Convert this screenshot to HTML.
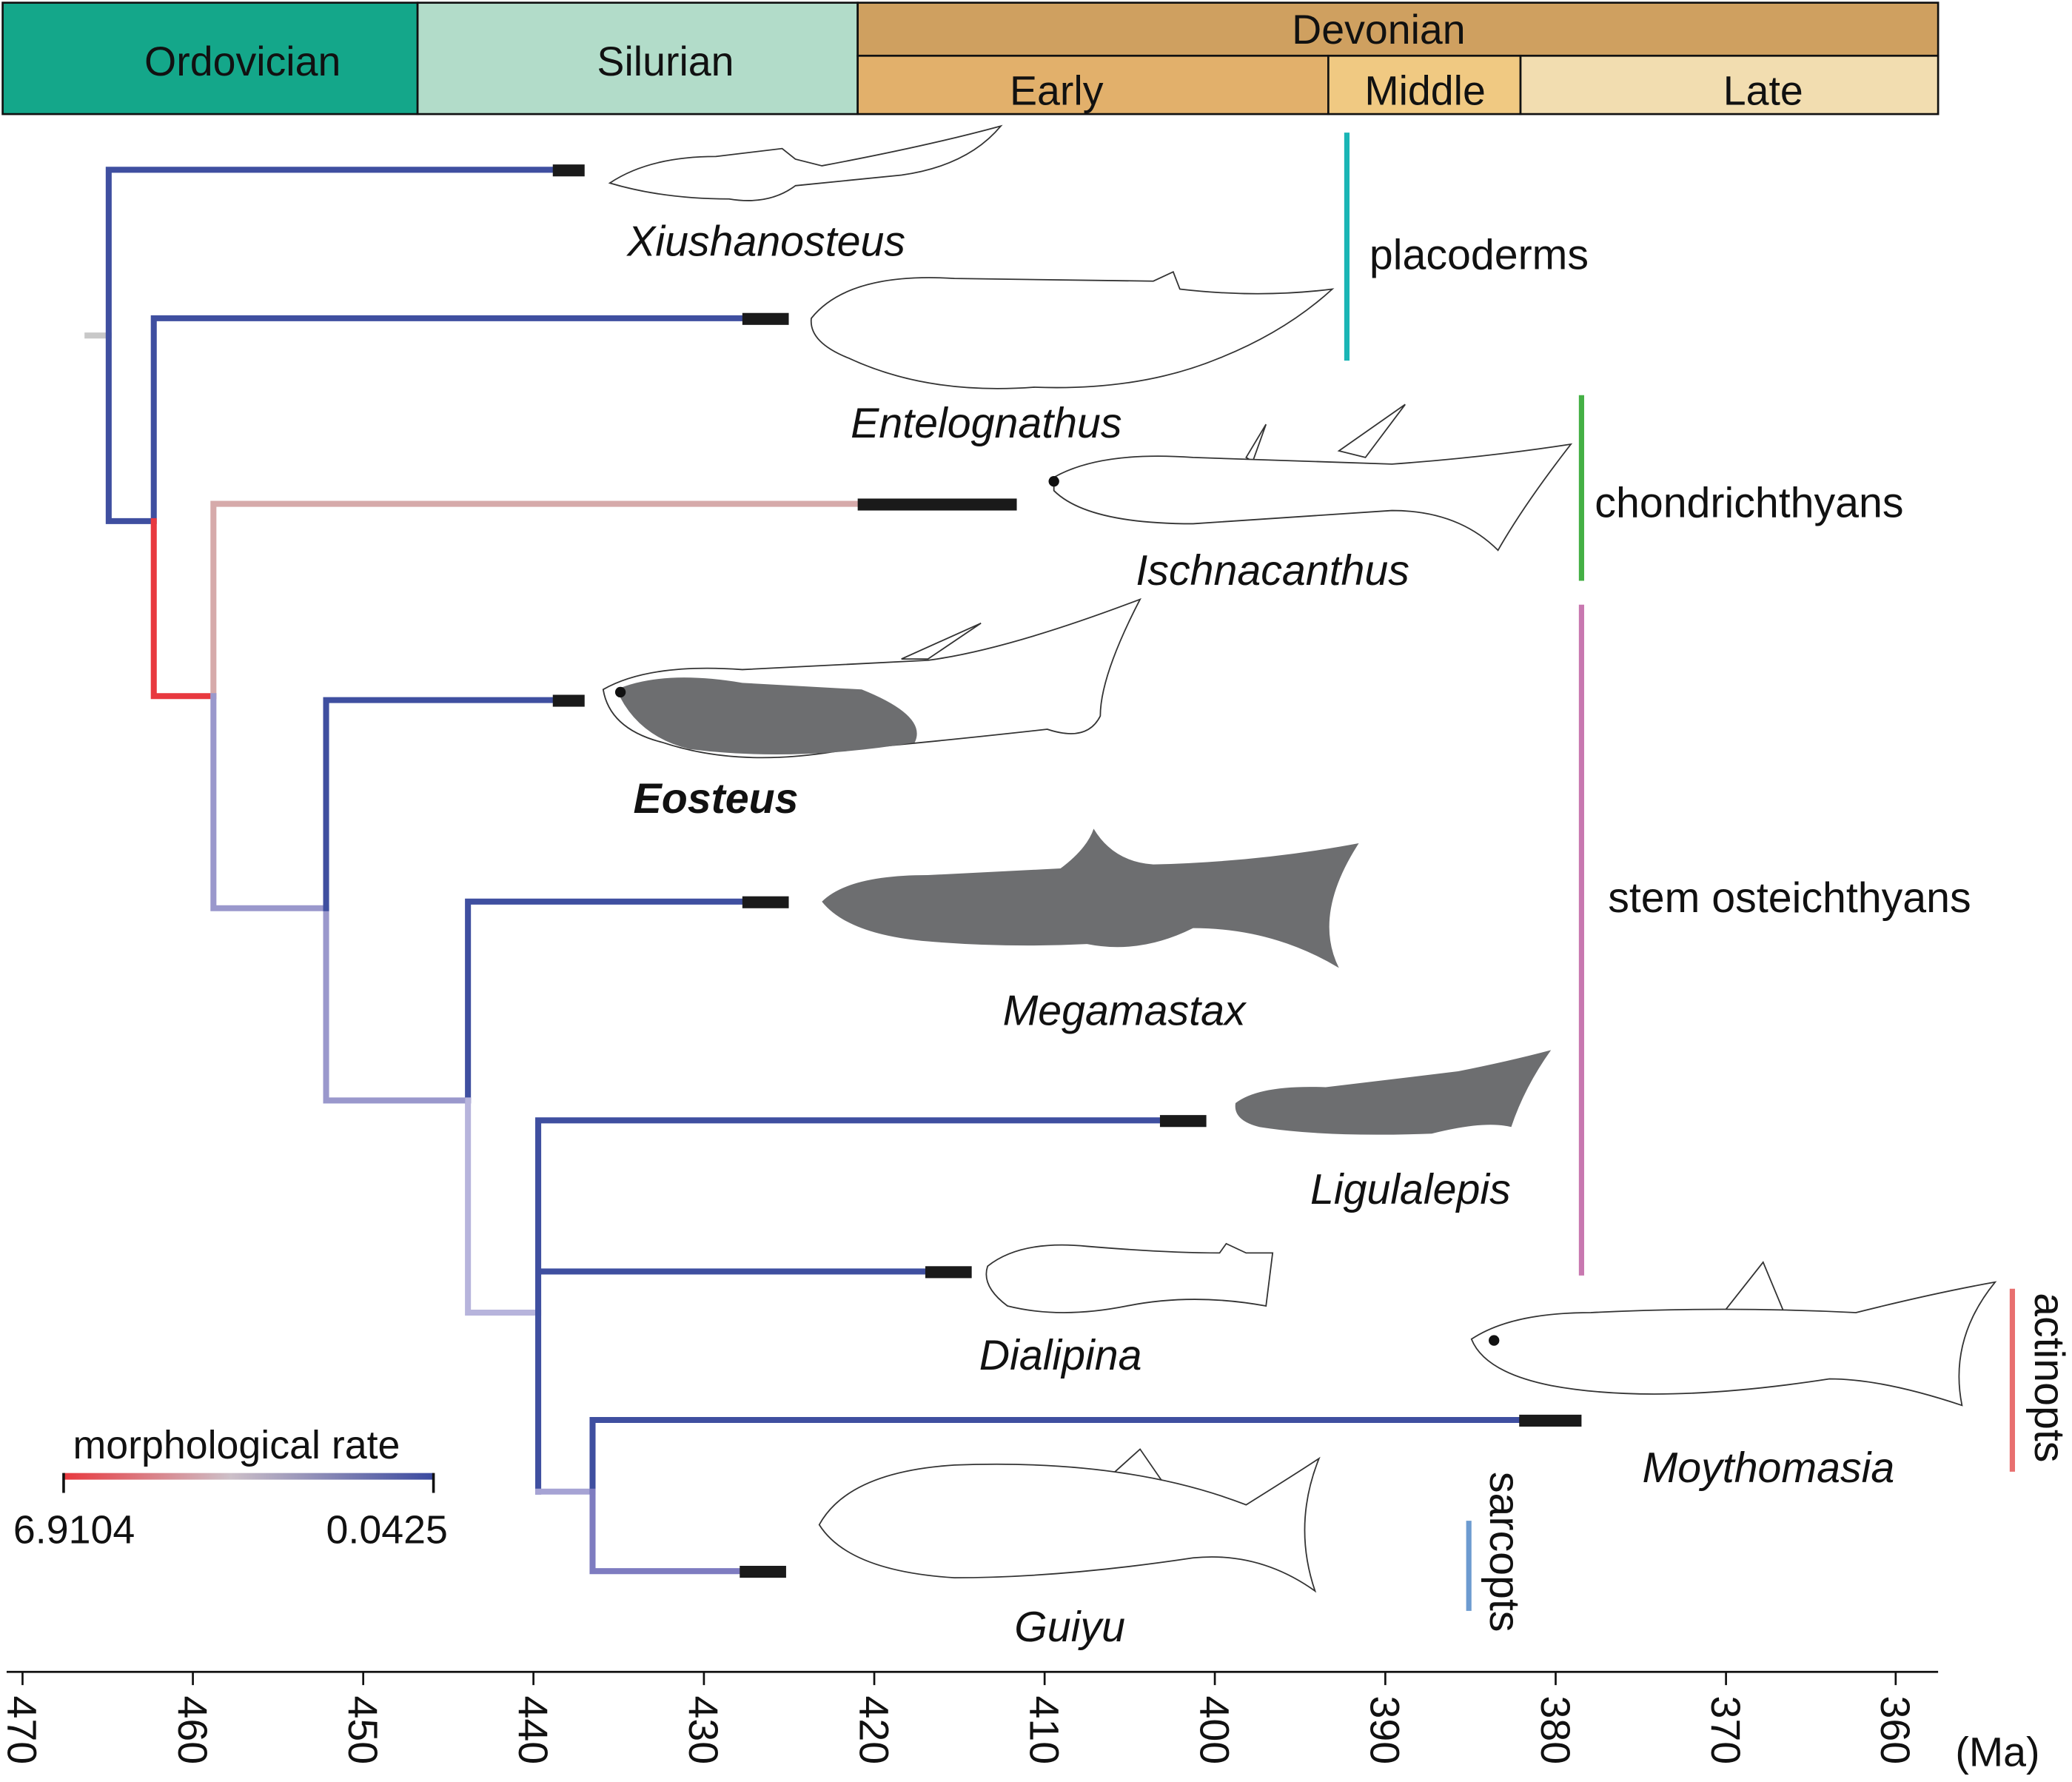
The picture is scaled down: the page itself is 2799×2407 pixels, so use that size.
<!DOCTYPE html>
<html><head><meta charset="utf-8"><style>
html,body{margin:0;padding:0;background:#fff;}
svg{display:block;}
text{font-family:"Liberation Sans",Arial,sans-serif;fill:#111;}
</style></head><body>
<svg width="2799" height="2407" viewBox="0 0 1563 1344" xmlns="http://www.w3.org/2000/svg">
<defs>
<linearGradient id="g" x1="0" x2="1" y1="0" y2="0">
<stop offset="0" stop-color="#e8393f"/><stop offset="0.45" stop-color="#cdc0c8"/><stop offset="1" stop-color="#3b4aa0"/>
</linearGradient>
</defs>
<g stroke="#111" stroke-width="1.5">
<rect x="2" y="2" width="313" height="84" fill="#14a78a"/>
<rect x="315" y="2" width="332" height="84" fill="#b2dcc9"/>
<rect x="647" y="2" width="815" height="40" fill="#cfa060"/>
<rect x="647" y="42" width="355" height="44" fill="#e2b06b"/>
<rect x="1002" y="42" width="145" height="44" fill="#f0c982"/>
<rect x="1147" y="42" width="315" height="44" fill="#f2ddb0"/>
</g>
<g font-size="31" text-anchor="middle">
<text x="183" y="57">Ordovician</text>
<text x="502" y="57">Silurian</text>
<text x="1040" y="33">Devonian</text>
<text x="797" y="79">Early</text>
<text x="1075" y="79">Middle</text>
<text x="1330" y="79">Late</text>
</g>
<g fill="none" stroke-width="4.5" stroke-linecap="square">
<path d="M66 253H82" stroke="#c8c8c8"/>
<path d="M82 128V393H116V240M82 128H420M116 240H560" stroke="#3f4fa0"/>
<path d="M116 393V525H161" stroke="#e8393f"/>
<path d="M161 525V380H647" stroke="#d6aaaa"/>
<path d="M161 525V685H246V830H353" stroke="#9a98cc"/>
<path d="M246 685V528H420" stroke="#3f4fa0"/>
<path d="M353 830V680H560" stroke="#3f4fa0"/>
<path d="M353 830V990H406" stroke="#b7b4dc"/>
<path d="M406 990V845H875M406 959H698M406 990V1125" stroke="#3f4fa0"/>
<path d="M406 1125H447" stroke="#a6a3d4"/>
<path d="M447 1125V1071H1146" stroke="#3f4fa0"/>
<path d="M447 1125V1185H558" stroke="#7e7cc0"/>
</g>
<g fill="#1a1a1a">
<rect x="417" y="124" width="24" height="9"/>
<rect x="560" y="236" width="35" height="9"/>
<rect x="647" y="376" width="120" height="9"/>
<rect x="417" y="524" width="24" height="9"/>
<rect x="560" y="676" width="35" height="9"/>
<rect x="875" y="841" width="35" height="9"/>
<rect x="698" y="955" width="35" height="9"/>
<rect x="1146" y="1067" width="47" height="9"/>
<rect x="558" y="1181" width="35" height="9"/>
</g>
<g stroke="#333" stroke-width="1" fill="#fff">
<path d="M460 138 Q490 118 540 118 L590 112 L600 120 L620 125 Q700 110 755 95 Q730 125 680 132 L600 140 Q580 155 550 150 Q500 150 460 138Z"/>
<path d="M612 240 Q640 205 720 210 L870 212 L885 205 L890 218 Q950 225 1005 218 Q970 250 920 270 Q860 295 780 292 Q700 298 640 270 Q610 258 612 240Z"/>
<path d="M940 345 L955 320 L945 348Z M1010 340 L1060 305 L1030 345Z"/>
<path d="M795 360 Q830 340 900 345 L1050 350 Q1120 345 1185 335 Q1150 380 1130 415 Q1100 385 1050 385 L900 395 Q820 395 795 370Z"/>
<path d="M680 497 L740 470 L700 497Z"/>
<path d="M455 520 Q490 500 560 505 L700 498 Q760 490 860 452 Q830 510 830 540 Q820 560 790 550 Q700 560 640 565 Q560 580 500 560 Q460 550 455 520Z"/>
<path d="M745 955 Q770 935 820 940 Q880 945 920 945 L925 938 L940 945 L960 945 L955 985 Q900 975 850 985 Q800 995 760 985 Q740 970 745 955Z"/>
<path d="M1300 990 L1330 952 L1345 988Z"/>
<path d="M1110 1010 Q1140 990 1200 990 Q1300 985 1400 990 Q1460 975 1505 967 Q1470 1010 1480 1060 Q1420 1040 1380 1040 Q1250 1060 1170 1045 Q1120 1035 1110 1010Z"/>
<path d="M830 1120 L860 1093 L880 1122Z"/>
<path d="M618 1150 Q640 1110 720 1105 Q850 1100 940 1135 Q980 1110 995 1100 Q975 1150 992 1200 Q950 1170 900 1175 Q800 1190 720 1190 Q640 1185 618 1150Z"/>
</g>
<path d="M465 520 Q500 505 560 515 L650 520 Q700 540 690 560 Q600 575 520 565 Q480 555 465 520Z" fill="#6d6e70"/>
<path d="M620 680 Q640 660 700 660 L800 655 Q820 640 825 625 Q840 650 870 652 Q950 650 1025 636 Q990 690 1010 730 Q960 700 900 700 Q860 720 820 712 Q760 715 700 710 Q640 705 620 680Z" fill="#6d6e70"/>
<path d="M932 832 Q950 818 1000 820 L1100 808 Q1140 800 1170 792 Q1150 820 1140 850 Q1120 845 1080 855 Q1000 858 950 850 Q930 845 932 832Z" fill="#6d6e70"/>
<g fill="#111"><circle cx="468" cy="522" r="4"/><circle cx="1127" cy="1011" r="4"/><circle cx="795" cy="363" r="4"/></g>
<g font-size="32" font-style="italic" text-anchor="middle">
<text x="578" y="193">Xiushanosteus</text>
<text x="744" y="330">Entelognathus</text>
<text x="960" y="441">Ischnacanthus</text>
<text x="540" y="613" font-weight="bold">Eosteus</text>
<text x="848" y="773">Megamastax</text>
<text x="1064" y="908">Ligulalepis</text>
<text x="800" y="1033">Dialipina</text>
<text x="1334" y="1118">Moythomasia</text>
<text x="807" y="1238">Guiyu</text>
</g>
<g stroke-width="4">
<line x1="1016" y1="100" x2="1016" y2="272" stroke="#1ab5b5"/>
<line x1="1193" y1="298" x2="1193" y2="438" stroke="#44b045"/>
<line x1="1193" y1="456" x2="1193" y2="962" stroke="#c878b0"/>
<line x1="1518" y1="972" x2="1518" y2="1110" stroke="#e87070"/>
<line x1="1108" y1="1147" x2="1108" y2="1215" stroke="#6d9bd0"/>
</g>
<g font-size="32">
<text x="1033" y="203">placoderms</text>
<text x="1203" y="390">chondrichthyans</text>
<text x="1213" y="688">stem osteichthyans</text>
<text transform="translate(1535,975) rotate(90)">actinopts</text>
<text transform="translate(1124,1110) rotate(90)">sarcopts</text>
</g>
<text x="55" y="1100" font-size="30">morphological rate</text>
<rect x="48" y="1111" width="279" height="5" fill="url(#g)"/>
<path d="M48 1111V1126M327 1111V1126" stroke="#111" stroke-width="2"/>
<text x="10" y="1164" font-size="30">6.9104</text>
<text x="246" y="1164" font-size="30">0.0425</text>
<line x1="5" y1="1261" x2="1462" y2="1261" stroke="#111" stroke-width="1.5"/>
<g stroke="#111" stroke-width="1.5">
<path d="M17 1261v10M145.5 1261v10M274 1261v10M402.4 1261v10M531 1261v10M659.5 1261v10M788 1261v10M916.4 1261v10M1045 1261v10M1173.5 1261v10M1302 1261v10M1430 1261v10"/>
</g>
<g font-size="31">
<text transform="translate(6,1279) rotate(90)">470</text>
<text transform="translate(134.5,1279) rotate(90)">460</text>
<text transform="translate(263,1279) rotate(90)">450</text>
<text transform="translate(391.4,1279) rotate(90)">440</text>
<text transform="translate(520,1279) rotate(90)">430</text>
<text transform="translate(648.5,1279) rotate(90)">420</text>
<text transform="translate(777,1279) rotate(90)">410</text>
<text transform="translate(905.4,1279) rotate(90)">400</text>
<text transform="translate(1034,1279) rotate(90)">390</text>
<text transform="translate(1162.5,1279) rotate(90)">380</text>
<text transform="translate(1291,1279) rotate(90)">370</text>
<text transform="translate(1419,1279) rotate(90)">360</text>
<text x="1475" y="1332">(Ma)</text>
</g>
</svg>
</body></html>
